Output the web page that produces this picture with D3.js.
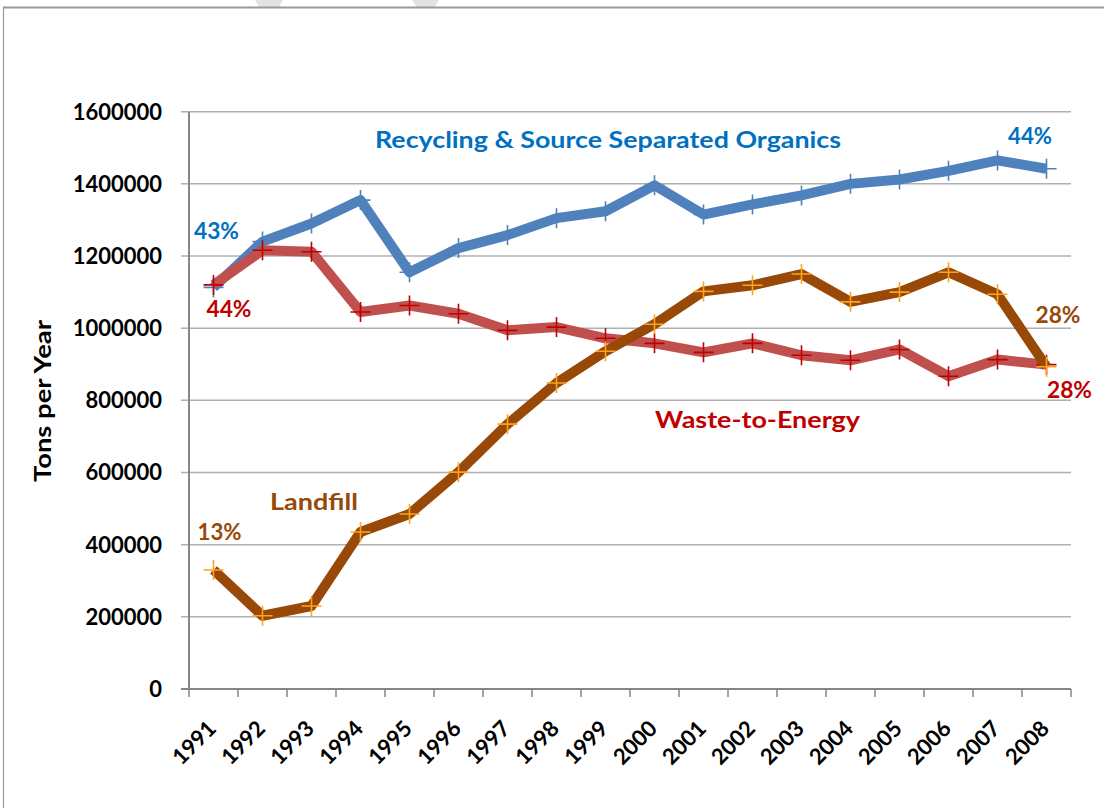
<!DOCTYPE html>
<html><head><meta charset="utf-8">
<script src="https://cdn.jsdelivr.net/npm/d3@7"></script>
<style>body{margin:0;background:#fff}svg{display:block}text{font-family:Lato,"Open Sans",sans-serif;font-weight:700}</style>
</head><body>
<script>
const years = ["1991","1992","1993","1994","1995","1996","1997","1998","1999","2000","2001","2002","2003","2004","2005","2006","2007","2008"];
const recycling = [1113000,1240000,1290000,1355000,1155000,1222000,1258000,1305000,1324000,1396000,1315000,1343000,1368000,1400000,1412000,1436000,1465000,1442000];
const wte = [1120000,1216000,1212000,1045000,1063000,1040000,994000,1003000,972000,958000,933000,958000,925000,911000,941000,867000,913000,899000];
const landfill = [330000,203000,230000,435000,485000,601000,734000,848000,936000,1011000,1102000,1119000,1150000,1073000,1100000,1155000,1094000,893000];
const yTicks = [0,200000,400000,600000,800000,1000000,1200000,1400000,1600000];

const W=1104,H=808;
const svg=d3.select("body").append("svg").attr("width",W).attr("height",H);
// watermark fragments and frame
svg.append("polygon").attr("points","255,0 283,0 279,7 259,7").attr("fill","#e2e2e2");
svg.append("polygon").attr("points","412,0 439,0 435,7 417,7").attr("fill","#e2e2e2");
svg.append("line").attr("x1",3).attr("x2",W).attr("y1",7.5).attr("y2",7.5).attr("stroke","#9a9a9a").attr("stroke-width",2);
svg.append("line").attr("x1",3.5).attr("x2",3.5).attr("y1",7).attr("y2",H).attr("stroke","#9a9a9a").attr("stroke-width",1.2);

const x=d3.scaleBand().domain(years).range([189,1071]);
const y=d3.scaleLinear().domain([0,1600000]).range([689,111.7]);
const cx=d=>x(d)+x.bandwidth()/2;

// gridlines + y ticks
svg.selectAll("line.grid").data(yTicks.slice(1)).join("line").attr("class","grid")
 .attr("x1",181).attr("x2",1071).attr("y1",d=>y(d)).attr("y2",d=>y(d)).attr("stroke","#b0b0b0").attr("stroke-width",1.5);
svg.append("line").attr("x1",181).attr("x2",189).attr("y1",y(0)).attr("y2",y(0)).attr("stroke","#868686").attr("stroke-width",2);
// axes
svg.append("line").attr("x1",189).attr("x2",189).attr("y1",y(1600000)).attr("y2",y(0)+1).attr("stroke","#868686").attr("stroke-width",2);
svg.append("line").attr("x1",188).attr("x2",1071).attr("y1",y(0)).attr("y2",y(0)).attr("stroke","#868686").attr("stroke-width",2);
const xt=years.map(d=>x(d)).concat([1071]);
svg.selectAll("line.xt").data(xt).join("line").attr("class","xt").attr("x1",d=>d).attr("x2",d=>d).attr("y1",y(0)).attr("y2",y(0)+8).attr("stroke","#868686").attr("stroke-width",1.5);

svg.selectAll("text.yl").data(yTicks).join("text").attr("class","yl")
 .attr("x",162).attr("y",d=>y(d)).attr("dy","0.36em").attr("text-anchor","end").attr("font-size",22).attr("fill","#000").text(d=>d);
svg.selectAll("text.xl").data(years).join("text").attr("class","xl")
 .attr("text-anchor","end").attr("font-size",22).attr("fill","#000")
 .attr("transform",d=>`translate(${cx(d)+4},730) rotate(-45)`).text(d=>d);
svg.append("text").attr("transform","translate(51,401) rotate(-90)").attr("text-anchor","middle").attr("font-size",22).attr("fill","#000")
 .attr("textLength",162).attr("lengthAdjust","spacingAndGlyphs").text("Tons per Year");

const line=d3.line().x((d,i)=>cx(years[i])).y(d=>y(d));
function series(vals,lc,mc){
  svg.append("path").attr("d",line(vals)).attr("fill","none").attr("stroke",lc).attr("stroke-width",10).attr("stroke-linejoin","round");
  const m=svg.append("g");
  vals.forEach((v,i)=>{
    const px=cx(years[i]),py=y(v);
    m.append("path").attr("d",`M${px-10},${py}H${px+10}M${px},${py-10}V${py+10}`).attr("stroke",mc).attr("stroke-width",1.6);
  });
}
series(recycling,"#4f81bd","#4f81bd");
series(wte,"#c0504d","#c00000");
series(landfill,"#984807","#ffa31a");

function label(t,xx,yy,c,fs,len){svg.append("text").attr("x",xx).attr("y",yy).attr("text-anchor","middle").attr("font-size",fs).attr("fill",c)
  .attr("textLength",len).attr("lengthAdjust","spacingAndGlyphs").text(t);}
label("Recycling & Source Separated Organics",608,148,"#0070c0",23.5,466);
label("Waste-to-Energy",757.5,428,"#c00000",22,205);
label("Landfill",314,510,"#984807",22.5,88);
label("43%",216.5,238.5,"#0070c0",22,45);
label("44%",229,317,"#c00000",22,45);
label("13%",219.5,540,"#984807",22,44);
label("44%",1030,144,"#0070c0",22,44);
label("28%",1058,323,"#984807",22,45);
label("28%",1069.5,398,"#c00000",22,45);
</script>
</body></html>
